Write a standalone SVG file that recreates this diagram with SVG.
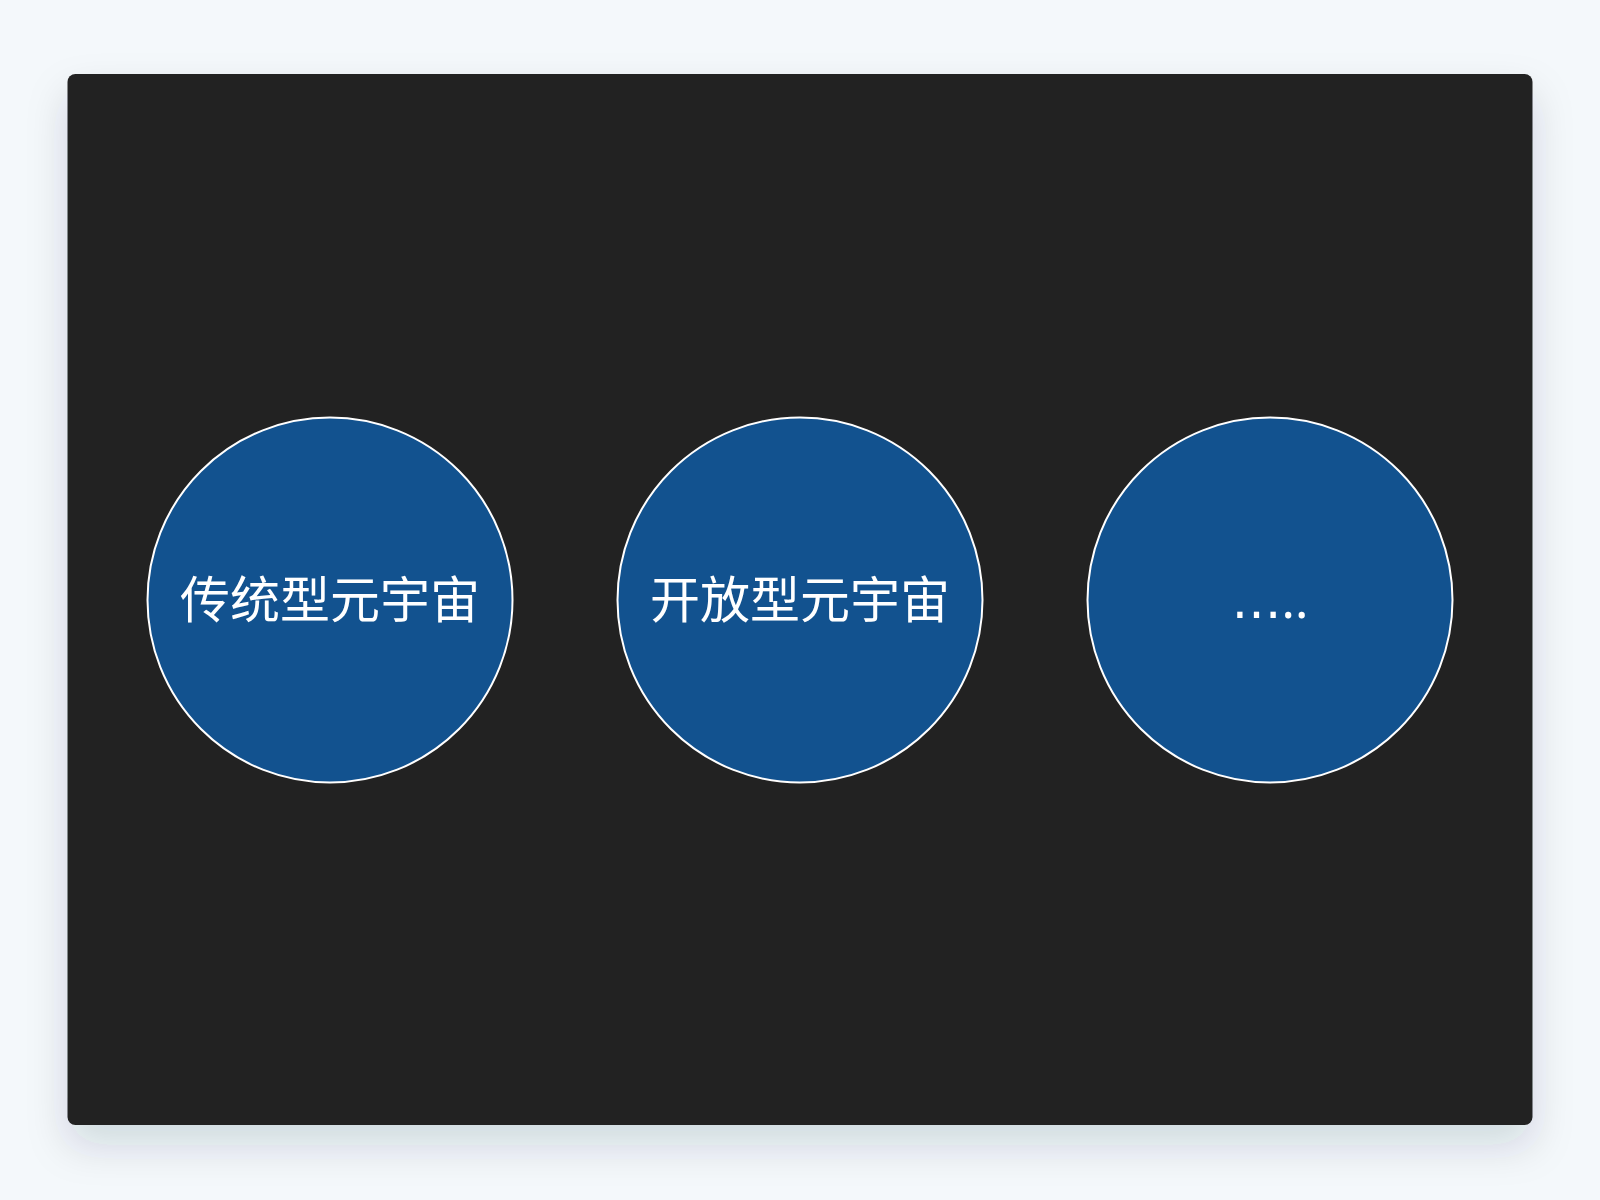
<svg xmlns="http://www.w3.org/2000/svg" width="1600" height="1200" viewBox="0 0 1600 1200">
  <defs>
    <filter id="shadow" x="-10%" y="-10%" width="120%" height="130%">
      <feDropShadow dx="0" dy="20" stdDeviation="20" flood-color="#1e2a3a" flood-opacity="0.15"/>
    </filter>
    <style>
      .node circle { fill: #12528f; stroke: #ffffff; stroke-width: 2; }
      .node text { fill: #ffffff; font-family: "Noto Sans", "Noto Sans CJK SC", sans-serif; font-size: 50px; text-anchor: middle; }
      .ell { font-family: "DejaVu Sans", sans-serif; }
    </style>
  </defs>
  <rect width="1600" height="1200" fill="#f4f8fb"/>
  <rect x="67.5" y="74" width="1465" height="1051" rx="8" fill="#222222" filter="url(#shadow)"/>
  <g id="connectors"></g>
  <g id="node1" class="node">
    <circle cx="330" cy="600" r="182.5"/>
    <text x="330" y="618">传统型元宇宙</text>
  </g>
  <g id="node2" class="node">
    <circle cx="800" cy="600" r="182.5"/>
    <text x="800" y="618">开放型元宇宙</text>
  </g>
  <g id="node3" class="node">
    <circle cx="1270" cy="600" r="182.5"/>
    <text x="1270" y="618"><tspan class="ell">…</tspan>..</text>
  </g>
</svg>
